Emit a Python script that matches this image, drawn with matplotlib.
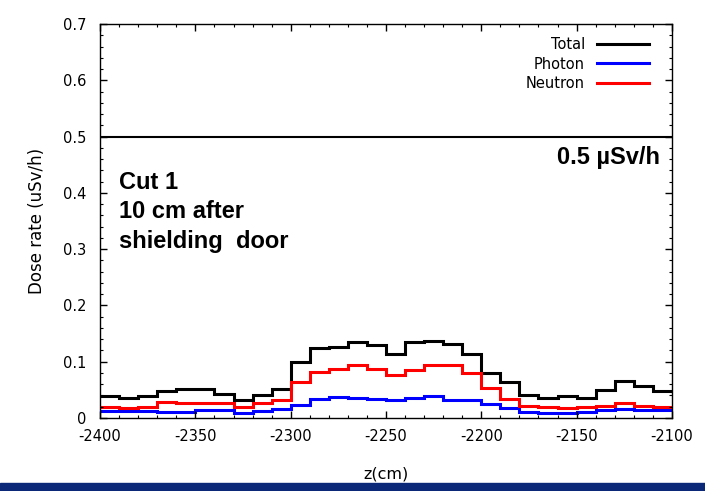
#!/usr/bin/env python3

import numpy as np
import matplotlib.pyplot as plt
from matplotlib.ticker import MultipleLocator
from matplotlib.patches import Rectangle

# 10 cm bins along z
z_edges = list(range(-2400, -2090, 10))

total = [0.039, 0.035, 0.039, 0.048, 0.052, 0.051, 0.042, 0.031, 0.041, 0.051,
         0.100, 0.124, 0.126, 0.134, 0.130, 0.113, 0.134, 0.137, 0.131, 0.114,
         0.079, 0.063, 0.041, 0.035, 0.039, 0.036, 0.050, 0.065, 0.057, 0.048]
neutron = [0.020, 0.018, 0.020, 0.029, 0.026, 0.026, 0.026, 0.019, 0.026, 0.031,
           0.063, 0.082, 0.086, 0.094, 0.086, 0.076, 0.085, 0.094, 0.094, 0.079,
           0.053, 0.034, 0.021, 0.019, 0.018, 0.019, 0.021, 0.026, 0.021, 0.019]
photon = [0.013, 0.012, 0.013, 0.011, 0.010, 0.014, 0.014, 0.009, 0.012, 0.015,
          0.023, 0.033, 0.037, 0.035, 0.034, 0.032, 0.036, 0.039, 0.032, 0.032,
          0.025, 0.018, 0.011, 0.009, 0.009, 0.011, 0.014, 0.015, 0.014, 0.014]

limit = 0.5

plt.rcParams['font.family'] = 'DejaVu Sans'
plt.rcParams['axes.unicode_minus'] = False

fig = plt.figure(figsize=(7.05, 4.91), dpi=100)
ax = fig.add_axes([0.142, 0.149, 0.811, 0.802])

lw = 2.2
ax.stairs(total, z_edges, baseline=None, color='black', lw=lw, label='Total')
ax.stairs(photon, z_edges, baseline=None, color='#0000ff', lw=lw, label='Photon')
ax.stairs(neutron, z_edges, baseline=None, color='#ff0000', lw=lw, label='Neutron')
ax.axhline(limit, color='black', lw=1.5)

ax.set_xlim(-2400, -2100)
ax.set_ylim(0, 0.7)
ax.xaxis.set_major_locator(MultipleLocator(50))
ax.xaxis.set_minor_locator(MultipleLocator(10))
ax.yaxis.set_minor_locator(MultipleLocator(0.02))
ax.set_yticks(np.arange(0, 0.71, 0.1))
ax.set_yticklabels(['0', '0.1', '0.2', '0.3', '0.4', '0.5', '0.6', '0.7'])
ax.tick_params(which='both', direction='in', top=True, right=True, labelsize=10.5)
ax.tick_params(which='major', length=5, width=1)
ax.tick_params(which='minor', length=2.5, width=0.8)
ax.tick_params(axis='x', pad=8)
ax.tick_params(axis='y', pad=10)
for s in ax.spines.values():
    s.set_linewidth(1.0)

ax.set_xlabel('z(cm)', fontsize=11.5, labelpad=16)
ax.set_ylabel('Dose rate (uSv/h)', fontsize=12, labelpad=12)

leg = ax.legend(loc='upper right', markerfirst=False, frameon=False,
                fontsize=10.5, handlelength=3.6, labelspacing=0.3,
                handletextpad=0.8, borderaxespad=0.5,
                bbox_to_anchor=(0.983, 1.0))

bold = dict(family='Liberation Sans', fontweight='bold', fontsize=17)
ax.text(-2390, 0.366, 'Cut 1\n10 cm after\nshielding  door', va='center',
        ha='left', linespacing=1.35, **bold)
ax.text(-2106, 0.462, '0.5 µSv/h', ha='right', va='center', **bold)

# presentation footer band
fig.patches.append(Rectangle((0, 0), 1, 0.016, transform=fig.transFigure,
                             color='#0b2878', zorder=-1))

fig.savefig('out.png', dpi=100)
